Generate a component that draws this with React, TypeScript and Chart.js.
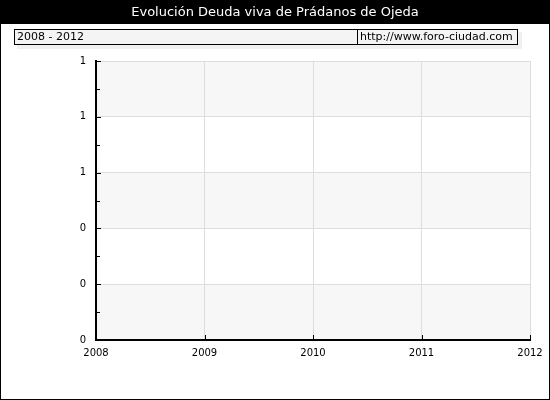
import { useEffect, useRef } from "react";
import { Chart, registerables } from "chart.js";
import type { Plugin } from "chart.js";

Chart.register(...registerables);

const title = "Evolución Deuda viva de Prádanos de Ojeda";
const period = "2008 - 2012";
const source = "http://www.foro-ciudad.com";

const years = ["2008", "2009", "2010", "2011", "2012"];
// no debt reported: the series sits on the zero line
const deuda = [0, 0, 0, 0, 0];
const yTicks = [0, 0.2, 0.4, 0.6, 0.8, 1];

const font = "DejaVu Sans";

const decor: Plugin<"line"> = {
  id: "decor",
  beforeDraw(chart) {
    const { ctx, width, height, chartArea: a, scales } = chart;
    ctx.save();
    ctx.fillStyle = "#ffffff";
    ctx.fillRect(0, 0, width, height);

    // title bar
    ctx.fillStyle = "#000000";
    ctx.fillRect(0, 0, width, 24);
    ctx.fillStyle = "#ffffff";
    ctx.font = `13px "${font}"`;
    ctx.textAlign = "center";
    ctx.textBaseline = "middle";
    ctx.fillText(title, width / 2, 13);

    // period / source strip
    ctx.fillStyle = "#f0f0f0";
    ctx.fillRect(17, 32, 505, 17);
    ctx.fillStyle = "#f4f4f4";
    ctx.fillRect(14, 29, 504, 16);
    ctx.strokeStyle = "#000000";
    ctx.lineWidth = 1;
    ctx.strokeRect(14.5, 29.5, 503, 15);
    ctx.strokeRect(357.5, 29.5, 160, 15);
    ctx.fillStyle = "#000000";
    ctx.font = `11px "${font}"`;
    ctx.textAlign = "left";
    ctx.fillText(period, 17, 37.5);
    ctx.fillText(source, 360, 37.5);

    // alternating bands
    const y = scales.y;
    for (let i = 0; i < yTicks.length - 1; i++) {
      const top = y.getPixelForValue(yTicks[i + 1]);
      const bottom = y.getPixelForValue(yTicks[i]);
      ctx.fillStyle = i % 2 === 0 ? "#f7f7f7" : "#ffffff";
      ctx.fillRect(a.left, top, a.right - a.left, bottom - top);
    }
    ctx.restore();
  },
  afterDraw(chart) {
    const { ctx, width, height, chartArea: a, scales } = chart;
    ctx.save();
    ctx.strokeStyle = "#000000";
    ctx.lineWidth = 1;
    ctx.beginPath();
    for (let i = 0; i < yTicks.length; i++) {
      const py = Math.round(scales.y.getPixelForValue(yTicks[i])) + 0.5;
      ctx.moveTo(a.left, py);
      ctx.lineTo(a.left + 5, py);
      if (i < yTicks.length - 1) {
        const my = Math.round(scales.y.getPixelForValue((yTicks[i] + yTicks[i + 1]) / 2)) + 0.5;
        ctx.moveTo(a.left, my);
        ctx.lineTo(a.left + 4, my);
      }
    }
    years.forEach((_, i) => {
      const px = Math.round(scales.x.getPixelForValue(i)) + 0.5;
      ctx.moveTo(px, a.bottom);
      ctx.lineTo(px, a.bottom - 5);
    });
    ctx.stroke();
    ctx.strokeRect(0.5, 0.5, width - 1, height - 1);
    ctx.restore();
  }
};

export default function App() {
  const canvasRef = useRef<HTMLCanvasElement | null>(null);

  useEffect(() => {
    if (!canvasRef.current) {
      return undefined;
    }
    const chart = new Chart(canvasRef.current, {
      type: "line",
      data: {
        labels: years,
        datasets: [
          {
            data: deuda,
            borderColor: "#000000",
            borderWidth: 2,
            pointRadius: 0
          }
        ]
      },
      options: {
        responsive: false,
        animation: false,
        devicePixelRatio: 1,
        layout: { padding: { top: 61, right: 20, bottom: 0, left: 0 } },
        plugins: { legend: { display: false }, tooltip: { enabled: false } },
        scales: {
          x: {
            offset: false,
            grid: { color: "#dddddd", drawTicks: false },
            border: { display: true, color: "#000000", width: 2 },
            ticks: { color: "#000000", padding: 7, maxRotation: 0, font: { family: font, size: 10 } },
            afterFit: (scale) => {
              scale.height = 60;
            }
          },
          y: {
            min: 0,
            max: 1,
            afterBuildTicks: (scale) => {
              scale.ticks = yTicks.map((value) => ({ value }));
            },
            grid: { color: "#dddddd", drawTicks: false },
            border: { display: true, color: "#000000", width: 2 },
            ticks: {
              color: "#000000",
              padding: 10,
              font: { family: font, size: 10 },
              callback: (value) => String(Math.round(Number(value)))
            },
            afterFit: (scale) => {
              scale.width = 96;
            }
          }
        }
      },
      plugins: [decor]
    });
    return () => chart.destroy();
  }, []);

  return (
    <div style={{ position: "fixed", top: 0, left: 0, width: 550, height: 400 }}>
      <canvas ref={canvasRef} width={550} height={400} />
    </div>
  );
}
